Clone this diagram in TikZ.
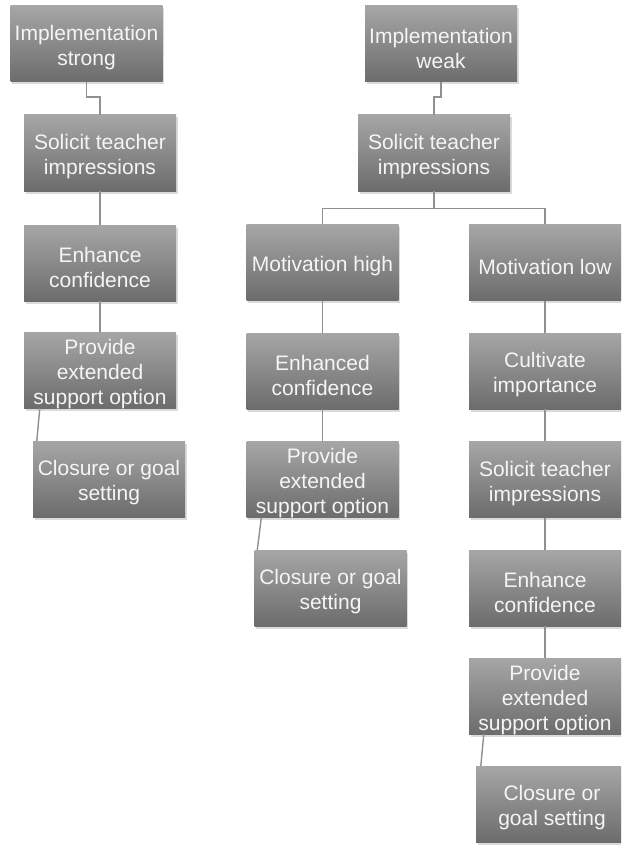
\documentclass[tikz,border=0pt]{standalone}
\usepackage{fontspec}
\setmainfont{Liberation Sans}
\usetikzlibrary{shadows,calc}
\definecolor{boxtop}{HTML}{A6A6A6}
\definecolor{boxbot}{HTML}{6C6C6C}
\definecolor{linkc}{HTML}{909090}
\definecolor{txtc}{HTML}{F5F5F5}
\tikzset{
  stepbox/.style={rectangle, minimum width=152pt, minimum height=76pt, inner sep=0pt,
    top color=boxtop, bottom color=boxbot,
    drop shadow={opacity=0.28, shadow xshift=1.5pt, shadow yshift=-2.5pt}},
  steptext/.style={text=txtc, align=center, inner sep=0pt, yshift=-4pt,
    font=\fontsize{21}{25}\selectfont},
  link/.style={draw=linkc, line width=1.4pt}
}
\newcommand\stepnode[3]{\node[stepbox, label={[steptext]center:{#3}}] (#1) at (#2) {};}
\begin{document}
\begin{tikzpicture}[x=1pt,y=1pt]
\useasboundingbox (0,0) rectangle (621,-845);
\clip (0,0) rectangle (621,-845);
\fill[white] (0,0) rectangle (621,-845);
% left column
\stepnode{b1}{86.5,-44}{Implementation\\strong}
\stepnode{b2}{100,-153}{Solicit teacher\\impressions}
\stepnode{b3}{100,-263}{Enhance\\confidence}
\stepnode{b4}{100,-370}{Provide\\extended\\support option}
\stepnode{b5}{109,-479}{Closure or goal\\setting}
% middle column
\stepnode{c1}{441,-44}{Implementation\\weak}
\stepnode{c2}{434,-153}{Solicit teacher\\impressions}
\stepnode{mh}{322.5,-262.5}{Motivation high}
\stepnode{m2}{322.5,-371}{Enhanced\\confidence}
\stepnode{m3}{322.5,-479.5}{Provide\\extended\\support option}
\stepnode{m4}{330.5,-588}{Closure or goal\\setting}
% right column
\stepnode{ml}{545,-262.5}{Motivation low}
\stepnode{r2}{545,-371}{Cultivate\\importance}
\stepnode{r3}{545,-479.5}{Solicit teacher\\impressions}
\stepnode{r4}{545,-588}{Enhance\\confidence}
\stepnode{r5}{545,-696}{Provide\\extended\\support option}
\stepnode{r6}{552,-804}{Closure or\\goal setting}
% connectors
\draw[link] (b1.south) -- ++(0,-15) -| (b2.north);
\draw[link] (b2.south) -- (b3.north);
\draw[link] (b3.south) -- (b4.north);
\draw[link] ([xshift=16pt]b4.south west) -- ([xshift=4pt]b5.north west);
\draw[link] (c1.south) -- ++(0,-15) -| (c2.north);
\draw[link] (c2.south) -- ++(0,-17) coordinate (j);
\draw[link] (mh.north) |- (j) -| (ml.north);
\draw[link] (mh.south) -- (m2.north);
\draw[link] (m2.south) -- (m3.north);
\draw[link] ([xshift=15pt]m3.south west) -- ([xshift=3pt]m4.north west);
\draw[link] (ml.south) -- (r2.north);
\draw[link] (r2.south) -- (r3.north);
\draw[link] (r3.south) -- (r4.north);
\draw[link] (r4.south) -- (r5.north);
\draw[link] ([xshift=15pt]r5.south west) -- ([xshift=5pt]r6.north west);
\end{tikzpicture}
\end{document}
